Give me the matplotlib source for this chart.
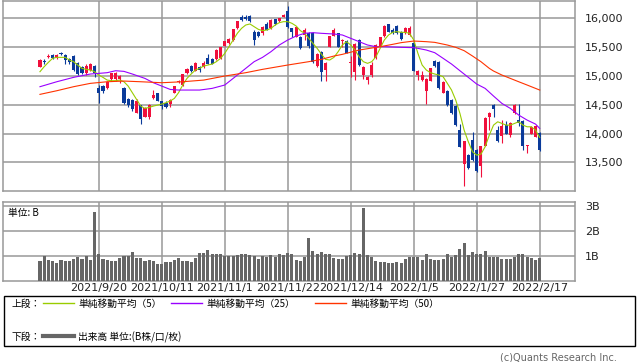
import numpy as np
import matplotlib
matplotlib.use("Agg")
import matplotlib.pyplot as plt
from matplotlib.patches import Rectangle

# daily candles (index 0..119)
opens = [15160, 15265, 15330, 15360, 15310, 15390, 15360, 15300, 15340, 15220,
         15160, 15050, 15100, 15170, 14800, 14825, 14790, 14940, 14940, 14940,
         14800, 14600, 14590, 14360, 14490, 14290, 14280, 14610, 14700, 14560,
         14540, 14520, 14710, 14890, 14840, 15050, 15170, 15090, 15160, 15160,
         15320, 15300, 15290, 15310, 15525, 15570, 15625, 15830, 16030, 16015,
         16040, 15770, 15770, 15750, 15910, 15825, 15985, 15945, 16030, 16130,
         15830, 15680, 15680, 15710, 15740, 15750, 15180, 15420, 15100, 15510,
         15700, 15740, 15600, 15610, 15230, 15075, 15630, 15020, 14930, 15020,
         15320, 15520, 15695, 15900, 15800, 15865, 15770, 15740, 15710, 15570,
         15020, 14930, 14745, 14920, 15260, 15250, 14710, 14740, 14590, 14480,
         14060, 13470, 13630, 13890, 13720, 13440, 13790, 14280, 14500, 14060,
         13960, 14150, 13975, 14350, 14235, 14220, 13790, 14000, 13950, 14010]
highs = [15290, 15300, 15385, 15380, 15380, 15420, 15380, 15320, 15360, 15240,
         15180, 15200, 15220, 15185, 14840, 14840, 14910, 15060, 15070, 15020,
         14810, 14610, 14600, 14600, 14500, 14460, 14510, 14760, 14710, 14570,
         14560, 14600, 14830, 14930, 15040, 15140, 15185, 15245, 15180, 15260,
         15380, 15320, 15460, 15510, 15610, 15660, 15820, 15960, 16060, 16050,
         16060, 15790, 15780, 15860, 15930, 15980, 15990, 16010, 16070, 16210,
         15840, 15850, 15700, 15830, 15760, 15760, 15390, 15440, 15240, 15700,
         15830, 15750, 15650, 15620, 15340, 15580, 15650, 15170, 15000, 15250,
         15550, 15680, 15880, 15910, 15840, 15880, 15780, 15850, 15860, 15600,
         15100, 15080, 14960, 15140, 15270, 15260, 14910, 14750, 14600, 14490,
         14170, 13880, 13640, 14020, 13730, 13790, 14290, 14380, 14510, 14130,
         14235, 14225, 14200, 14510, 14510, 14230, 13810, 14130, 14150, 14020]
lows = [15150, 15200, 15320, 15290, 15300, 15360, 15210, 15210, 15090, 15010,
        15030, 15010, 15090, 14990, 14525, 14700, 14770, 14920, 14920, 14880,
        14520, 14470, 14400, 14350, 14160, 14280, 14260, 14600, 14560, 14420,
        14440, 14460, 14700, 14870, 14830, 15040, 15070, 15080, 15070, 15140,
        15200, 15200, 15280, 15300, 15520, 15560, 15610, 15820, 15950, 15970,
        15940, 15540, 15680, 15710, 15790, 15820, 15890, 15940, 16020, 15840,
        15680, 15670, 15470, 15620, 15480, 15220, 15150, 14920, 14920, 15500,
        15690, 15500, 15510, 15390, 14990, 14930, 15170, 14940, 14860, 14990,
        15300, 15510, 15680, 15760, 15730, 15730, 15620, 15730, 15700, 15080,
        14930, 14920, 14510, 14910, 15160, 14770, 14700, 14480, 14340, 14140,
        13760, 13090, 13390, 13530, 13330, 13240, 13780, 14070, 14290, 13850,
        13840, 13990, 13935, 14340, 14130, 13725, 13670, 13990, 13935, 13700]
closes = [15277, 15250, 15350, 15305, 15365, 15375, 15280, 15240, 15100, 15035,
          15050, 15180, 15200, 15045, 14710, 14745, 14900, 15055, 15050, 15000,
          14530, 14490, 14430, 14560, 14260, 14440, 14500, 14670, 14570, 14480,
          14460, 14590, 14820, 14905, 15030, 15125, 15090, 15230, 15100, 15230,
          15205, 15210, 15450, 15500, 15600, 15650, 15810, 15945, 15970, 15990,
          15960, 15625, 15690, 15855, 15800, 15970, 15900, 16000, 16055, 15845,
          15770, 15845, 15490, 15800, 15520, 15250, 15380, 15075, 15230, 15690,
          15800, 15510, 15625, 15400, 15250, 15560, 15190, 15160, 14985, 15190,
          15535, 15670, 15865, 15770, 15750, 15740, 15640, 15840, 15840, 15095,
          15090, 15020, 14940, 15130, 15170, 14790, 14900, 14490, 14350, 14150,
          13770, 13870, 13400, 13540, 13360, 13780, 14270, 14350, 14420, 13880,
          14130, 14000, 14190, 14500, 14180, 13785, 13800, 14120, 14140, 13720]

# volume in billions
volume = [0.79, 0.97, 0.82, 0.78, 0.70, 0.82, 0.78, 0.78, 0.86, 0.95,
          0.86, 0.97, 0.82, 2.75, 1.07, 0.86, 0.82, 0.78, 0.78, 0.90,
          0.97, 0.97, 1.15, 0.90, 0.90, 0.78, 0.82, 0.78, 0.66, 0.66,
          0.74, 0.74, 0.82, 0.90, 0.78, 0.78, 0.74, 0.90, 1.11, 1.11,
          1.23, 1.07, 1.07, 1.07, 0.97, 0.97, 0.97, 1.03, 1.07, 1.07,
          1.03, 0.97, 0.86, 0.97, 0.95, 1.03, 0.95, 1.07, 1.03, 1.11,
          1.07, 0.82, 0.80, 0.96, 1.73, 1.21, 1.09, 1.17, 1.05, 1.05,
          0.89, 0.85, 0.85, 0.97, 1.01, 1.13, 1.09, 2.92, 1.01, 0.96,
          0.79, 0.73, 0.73, 0.69, 0.69, 0.73, 0.69, 0.85, 0.96, 0.96,
          0.93, 0.81, 1.05, 0.85, 0.81, 0.81, 0.85, 1.05, 0.96, 1.01,
          1.29, 1.53, 1.01, 1.17, 1.05, 1.05, 1.21, 0.96, 0.96, 0.93,
          0.85, 0.85, 0.85, 0.93, 1.05, 1.05, 0.93, 0.89, 0.81, 0.89]

# moving averages
ma5 = [15074, 15161, 15236, 15306, 15323, 15323, 15323, 15277, 15248, 15190,
       15132, 15115, 15103, 15074, 15016, 14976, 14929, 14918, 14918, 14929,
       14900, 14825, 14710, 14594, 14478, 14438, 14455, 14478, 14495, 14513,
       14536, 14565, 14611, 14710, 14843, 14958, 15034, 15103, 15132, 15172,
       15190, 15207, 15248, 15306, 15392, 15508, 15624, 15740, 15826, 15884,
       15902, 15855, 15809, 15786, 15797, 15826, 15884, 15925, 15942, 15942,
       15913, 15867, 15786, 15740, 15653, 15566, 15479, 15381, 15288, 15277,
       15323, 15421, 15537, 15595, 15537, 15450, 15334, 15248, 15219, 15248,
       15334, 15479, 15624, 15711, 15757, 15769, 15757, 15757, 15740, 15624,
       15392, 15190, 15103, 15057, 15034, 15016, 14987, 14872, 14756, 14582,
       14351, 14061, 13859, 13685, 13627, 13645, 13772, 13975, 14148, 14206,
       14177, 14148, 14148, 14177, 14206, 14148, 14119, 14119, 14061, 13934]
ma25_idx = [0, 4, 8, 12, 14, 16, 18, 20, 22, 25, 27, 29, 31, 33, 35, 38, 41, 44,
            46, 49, 51, 53, 55, 57, 59, 61, 63, 65, 67, 70, 72, 74, 76, 78, 80,
            82, 86, 89, 90, 92, 94, 96, 98, 100, 102, 104, 106, 108, 110, 112,
            114, 116, 118, 119]
ma25 = [14814, 14900, 14976, 15034, 15045, 15057, 15091, 15080, 15034, 14958,
        14883, 14825, 14767, 14756, 14756, 14756, 14785, 14843, 14958, 15132,
        15248, 15323, 15421, 15537, 15624, 15693, 15740, 15751, 15740, 15728,
        15711, 15653, 15595, 15537, 15508, 15508, 15497, 15491, 15479, 15450,
        15404, 15306, 15207, 15091, 14976, 14860, 14785, 14652, 14524, 14438,
        14322, 14235, 14166, 14090]
ma50_idx = [0, 4, 8, 12, 16, 20, 24, 29, 34, 39, 44, 49, 53, 59, 64, 67, 70, 72,
            76, 78, 81, 84, 86, 89, 92, 94, 97, 99, 101, 103, 105, 107, 108, 110,
            112, 114, 116, 118, 119]
ma50 = [14681, 14744, 14814, 14872, 14900, 14912, 14900, 14883, 14900, 14929,
        14999, 15057, 15115, 15190, 15248, 15288, 15346, 15375, 15450, 15473,
        15508, 15549, 15578, 15606, 15595, 15583, 15537, 15497, 15439, 15346,
        15248, 15132, 15086, 15016, 14958, 14900, 14843, 14785, 14756]

date_pos = [14, 29, 44, 59, 74, 89, 104, 119]
date_labels = ["2021/9/20", "2021/10/11", "2021/11/1", "2021/11/22",
               "2021/12/14", "2022/1/5", "2022/1/27", "2022/2/17"]
price_ticks = [13500, 14000, 14500, 15000, 15500, 16000]
vol_ticks = [1, 2, 3]

W, H = 638, 362
CJK = ["Noto Sans CJK JP", "DejaVu Sans"]
GRID = "#999999"
RED = "#f0103c"
BLUE = "#0a3a9a"

def fx(x):
    return x / W

def fy(y):
    return 1 - y / H

fig = plt.figure(figsize=(W / 100, H / 100), dpi=100)

x = np.arange(len(closes))
o = np.array(opens)
c = np.array(closes)
up = c >= o
col = np.where(up, RED, BLUE)

# ---- price panel
ax = fig.add_axes([fx(3), fy(190.5), fx(572), (190.5 - 0.5) / H])
ax.vlines(x, lows, highs, colors=col, linewidth=0.8, zorder=3)
body = np.maximum(np.abs(c - o), 12)
ax.bar(x, body, bottom=np.minimum(o, c), width=0.74, color=col, linewidth=0, zorder=4)
ax.plot(x, ma5, color="#99cc00", linewidth=0.8, zorder=5)
ax.plot(ma25_idx, ma25, color="#9900ff", linewidth=0.8, zorder=5)
ax.plot(ma50_idx, ma50, color="#ff3300", linewidth=0.8, zorder=5)
ax.set_xlim(-8.8, 127.4)
ax.set_ylim(13014, 16309)
ax.set_xticks(date_pos)
ax.set_xticklabels([])
ax.set_yticks(price_ticks)
ax.set_yticklabels([f"{v:,}" for v in price_ticks], fontsize=8)
ax.yaxis.tick_right()
ax.tick_params(length=0, pad=7, labelcolor="#222222")
ax.grid(True, color=GRID, linewidth=1.1)
ax.set_axisbelow(True)
for s in ax.spines.values():
    s.set_color(GRID)
    s.set_linewidth(1.1)

# ---- volume panel
av = fig.add_axes([fx(3), fy(280.5), fx(572), (280.5 - 201.5) / H])
av.bar(x, volume, width=0.74, color="#666666", linewidth=0, zorder=3)
av.set_xlim(-8.8, 127.4)
av.set_ylim(0, 3.19)
av.set_xticks(date_pos)
av.set_xticklabels(date_labels, fontsize=8, color="#222222")
av.set_yticks(vol_ticks)
av.set_yticklabels([f"{v}B" for v in vol_ticks], fontsize=8)
av.yaxis.tick_right()
av.tick_params(axis="y", length=0, pad=7, labelcolor="#222222")
av.tick_params(axis="x", length=0, pad=2)
av.grid(True, color=GRID, linewidth=1.1)
av.set_axisbelow(True)
for s in av.spines.values():
    s.set_color(GRID)
    s.set_linewidth(1.1)
av.text(0.008, 0.86, "単位: B", transform=av.transAxes, fontsize=7,
        family=CJK, va="center", ha="left", zorder=6)

# ---- legend box
fig.patches.append(Rectangle((fx(3.5), fy(346)), fx(631.5), (346 - 296) / H,
                             transform=fig.transFigure, fill=False,
                             edgecolor="black", linewidth=1.0))
fig.text(fx(12), fy(304), "上段：", fontsize=7, family=CJK, va="center")
fig.text(fx(12), fy(337), "下段：", fontsize=7, family=CJK, va="center")
legend_items = [(43, "#99cc00", "単純移動平均（5）"),
                (171, "#9900ff", "単純移動平均（25）"),
                (315, "#ff3300", "単純移動平均（50）")]
for x0, lc, txt in legend_items:
    fig.add_artist(plt.Line2D([fx(x0), fx(x0 + 31)], [fy(303), fy(303)],
                              color=lc, linewidth=1.0))
    fig.text(fx(x0 + 35), fy(304), txt, fontsize=7, family=CJK, va="center")
fig.add_artist(plt.Line2D([fx(43), fx(74)], [fy(336), fy(336)],
                          color="#666666", linewidth=3.0))
fig.text(fx(78), fy(337), "出来高 単位:(B株/口/枚)", fontsize=7, family=CJK, va="center")

fig.text(fx(617), fy(357), "(c)Quants Research Inc.", fontsize=7,
         color="#666666", ha="right", va="center")

fig.savefig("out.png", dpi=100)
